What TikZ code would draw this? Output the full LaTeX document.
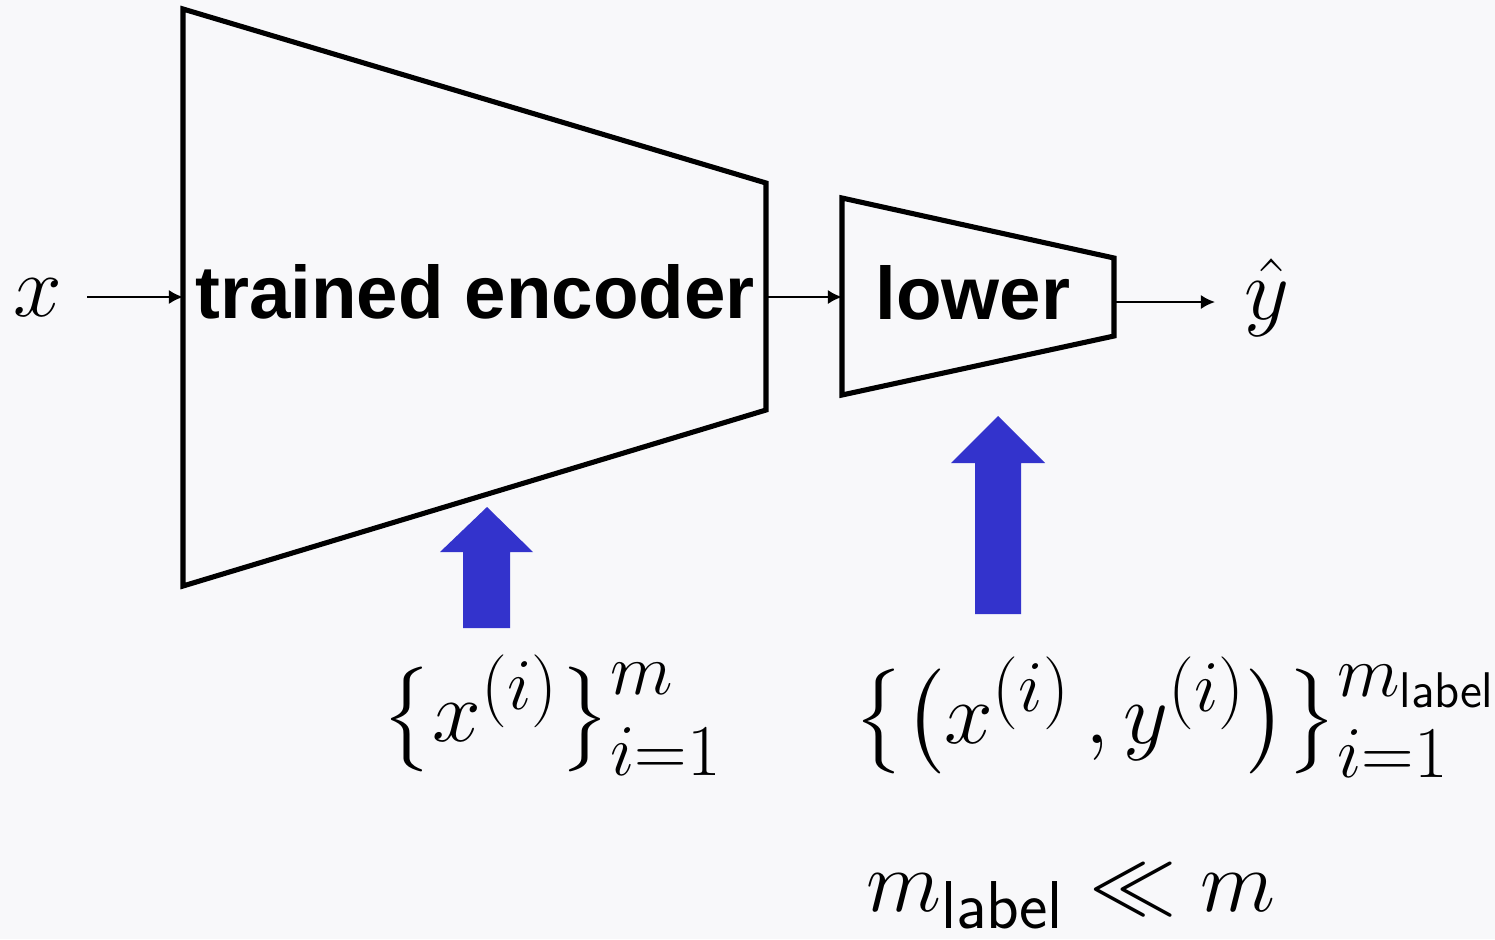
\documentclass[tikz,border=0pt]{standalone}
\usepackage{amsmath}
\usepackage{fontspec}
\newfontfamily\labelfont{Liberation Sans}
\usetikzlibrary{arrows.meta}
\definecolor{pagebg}{HTML}{F8F8FA}
\definecolor{upblue}{HTML}{3333CC}
\tikzset{
  block/.style={line width=1.45pt, line join=miter},
  flow/.style={line width=0.6pt, -{Latex[length=4pt,width=4pt]}},
  bigup/.style={fill=upblue, draw=none},
  blocktext/.style={font=\labelfont\bfseries\fontsize{21.2}{25}\selectfont, inner sep=0pt},
  mathtext/.style={font=\fontsize{28.5}{34}\selectfont, inner sep=0pt}
}
\begin{document}
\begin{tikzpicture}[x=0.01cm,y=-0.01cm]
  % canvas
  \fill[pagebg] (0,0) rectangle (1495,939);
  \useasboundingbox (0,0) rectangle (1495,939);

  % encoder and lower blocks
  \draw[block] (183,9) -- (766,183) -- (766,410) -- (183,586) -- cycle;
  \draw[block] (842,198) -- (1114,258) -- (1114,336) -- (842,395) -- cycle;
  \node[blocktext] (enc) at (475,292) {trained encoder};
  \node[blocktext] (low) at (973,293) {lower};

  % input / output
  \node[mathtext] (x) at (38,298) {$x$};
  \node[mathtext] (yhat) at (1267,298) {$\hat{y}$};
  \coordinate (encin) at (183,297);
  \coordinate (encout) at (766,297);
  \coordinate (lowin) at (842,297);
  \coordinate (lowout) at (1114,302);
  \coordinate (yin) at (1215,302);
  \coordinate (xout) at (87,297);
  \draw[flow] (xout) -- (encin);
  \draw[flow] (encout) -- (lowin);
  \draw[flow] (lowout) -- (yin);

  % training data arrows
  \fill[bigup] (487,507) -- (533,552) -- (510,552) -- (510,628) -- (463,628) -- (463,552) -- (440,552) -- cycle;
  \fill[bigup] (998,416) -- (1045,463) -- (1021,463) -- (1021,614) -- (975,614) -- (975,463) -- (951,463) -- cycle;

  % data sets
  \node[mathtext] (unl) at (552,715) {$\bigl\{x^{(i)}\bigr\}_{i=1}^{m}$};
  \node[mathtext] (lab) at (1175,717) {$\bigl\{\bigl(x^{(i)}\,,y^{(i)}\bigr)\bigr\}_{i=1}^{m_{\mathsf{label}}}$};
  \node[mathtext, font=\fontsize{27.5}{33}\selectfont] (rel) at (1071,897) {$m_{\mathsf{label}}\ll m$};
\end{tikzpicture}
\end{document}
